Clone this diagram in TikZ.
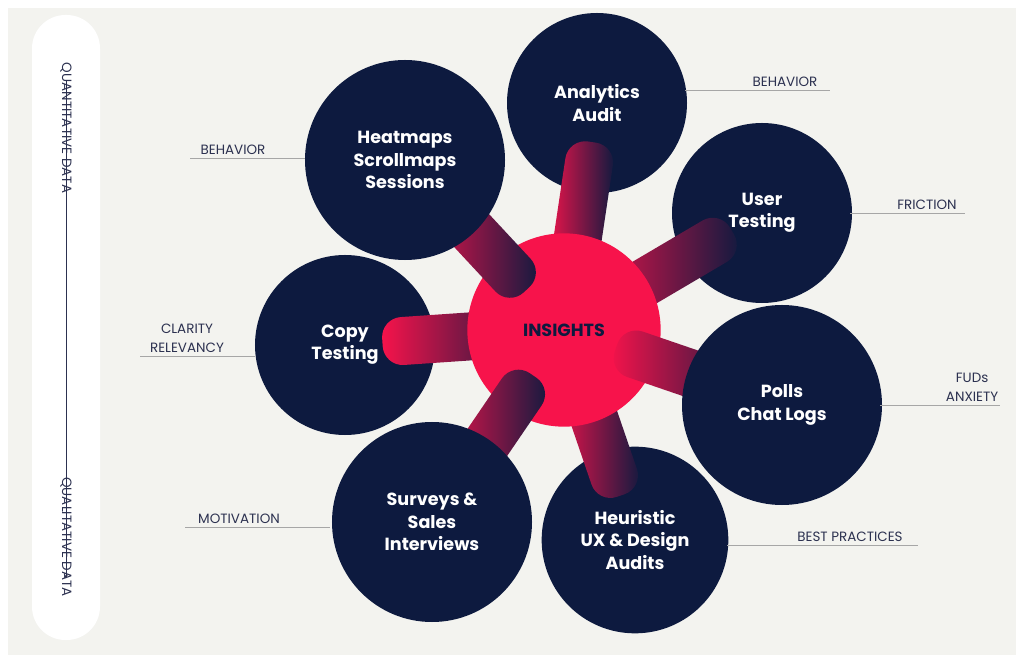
\documentclass[tikz,border=0pt]{standalone}
\usepackage{fontspec}
\setmainfont{Poppins}
\usetikzlibrary{calc}
\definecolor{navy}{HTML}{0D1A3F}
\definecolor{hot}{HTML}{F7134B}
\definecolor{bgc}{HTML}{F3F3EF}
\definecolor{lblc}{HTML}{2C3150}
\tikzset{
  sat/.style={circle,fill=navy,inner sep=0pt},
  sattxt/.style={text=white,align=center,font=\bfseries\fontsize{15}{19}\selectfont},
  lbl/.style={text=lblc,align=center,font=\fontsize{11.5}{16}\selectfont,inner sep=3pt},
  lline/.style={draw=gray!70,line width=0.6pt},
}
\newcommand{\spoke}[4]{% name, angle, r1, r2
  \begin{scope}[shift={(ins)},rotate=#2]
    \shade[left color=hot,right color=navy,rounded corners=0.6cm] (#3,-24) rectangle (#4,24);
  \end{scope}}
\begin{document}
\begin{tikzpicture}[x=0.03cm,y=0.03cm]
	\fill[white] (0,0) rectangle (1024,663);
	\fill[bgc] (8,8) rectangle (1016,655);
	\fill[white,rounded corners=1cm] (32,23) rectangle (100,648);
	\node[lbl,rotate=-90](qn) at (66,535){QUANTITATIVE DATA};
	\node[lbl,rotate=-90](ql) at (66,126){QUALITATIVE DATA};
	\draw[lblc,line width=0.6pt,-stealth] ($(qn.west)+(0,-22)$) -- ($(ql.east)+(0,22)$);
	% satellites under the bars
	\coordinate (ins) at (564,333);
	\node[sat,minimum size=5.4cm](aa) at (597,560){};
	\node[sat,minimum size=5.4cm](ut) at (762,450){};
	\node[sat,minimum size=5.4cm](ct) at (345,318){};
	\node[sat,minimum size=5.6cm](hx) at (635,123){};
	\spoke{aa}{81.5}{30}{190}
	\spoke{ut}{30.5}{30}{195}
	\spoke{ct}{183.9}{30}{182}
	\spoke{hx}{-71.1}{30}{175}
	\node[circle,fill=hot,minimum size=5.8cm](c) at (ins){};
	\spoke{hm}{132.9}{55}{200}
	\spoke{pc}{-18.9}{55}{200}
	\spoke{sv}{-124.3}{55}{200}
	% satellites over the bars
	\node[sat,minimum size=6cm](hm) at (405,503){};
	\node[sat,minimum size=6cm](pc) at (782,258){};
	\node[sat,minimum size=6cm](sv) at (432,141){};
	% texts
	\node[text=navy,font=\bfseries\fontsize{15}{19}\selectfont] at (c){INSIGHTS};
	\node[sattxt] at (aa){Analytics\\Audit};
	\node[sattxt] at (ut){User\\Testing};
	\node[sattxt] at (ct){Copy\\Testing};
	\node[sattxt] at (hx){Heuristic\\UX \& Design\\Audits};
	\node[sattxt] at (hm){Heatmaps\\Scrollmaps\\Sessions};
	\node[sattxt] at (pc){Polls\\Chat Logs};
	\node[sattxt] at (sv){Surveys \&\\Sales\\Interviews};
	% side labels
	\node[lbl,anchor=south](l1) at (785,573){BEHAVIOR};
	\draw[lline] (685,573) -- (830,573);
	\node[lbl,anchor=south](l2) at (233,505){BEHAVIOR};
	\draw[lline] (190,505) -- (305,505);
	\node[lbl,anchor=south](l3) at (927,450){FRICTION};
	\draw[lline] (850,450) -- (965,450);
	\node[lbl,anchor=south](l4) at (187,307){CLARITY\\RELEVANCY};
	\draw[lline] (140,307) -- (255,307);
	\node[lbl,anchor=south east](l5) at (1002,258){FUDs\\ANXIETY};
	\draw[lline] (880,258) -- (1000,258);
	\node[lbl,anchor=south](l6) at (239,136){MOTIVATION};
	\draw[lline] (185,136) -- (330,136);
	\node[lbl,anchor=south](l7) at (850,118){BEST PRACTICES};
	\draw[lline] (727,118) -- (918,118);
\end{tikzpicture}
\end{document}
